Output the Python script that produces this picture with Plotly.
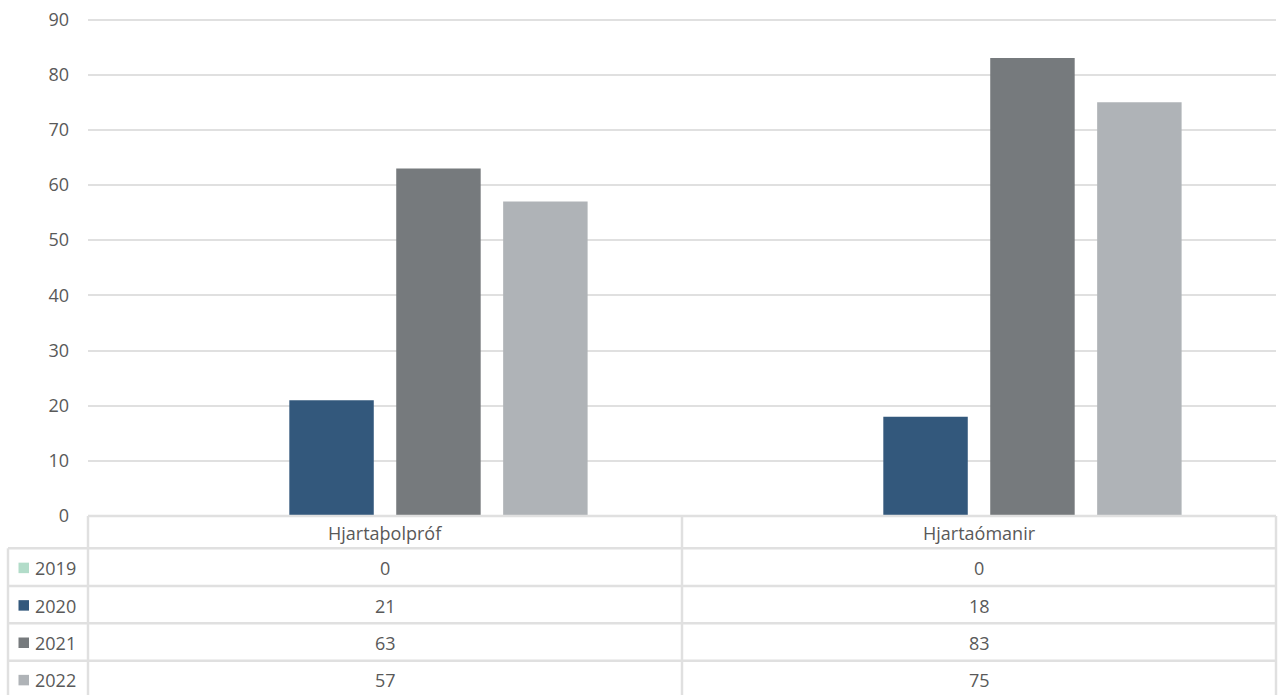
import plotly.graph_objects as go

categories = ["Hjartaþolpróf", "Hjartaómanir"]
years = ["2019", "2020", "2021", "2022"]
values_2019 = [0, 0]
values_2020 = [21, 18]
values_2021 = [63, 83]
values_2022 = [57, 75]
series = [values_2019, values_2020, values_2021, values_2022]
colors = ["#b2dcc9", "#33587c", "#767a7d", "#afb3b7"]
y_ticks = [0, 10, 20, 30, 40, 50, 60, 70, 80, 90]

W, H = 1282, 695
TXT = "#595959"
GRID = "#e0e0e0"
FONT = "Open Sans, DejaVu Sans, sans-serif"
FS = 18


def px(x):
    return x / W


def py(y):
    return 1 - y / H


plot_left, plot_right = 88, 1276
plot_bottom = 516
unit = (516 - 19.5) / 90.0
y_max = 91
plot_top = plot_bottom - y_max * unit

fig = go.Figure()
for yr, vals, col in zip(years, series, colors):
    fig.add_trace(go.Bar(x=categories, y=vals, name=yr, marker=dict(color=col, line=dict(width=0)),
                         showlegend=False))

fig.update_layout(
    width=W, height=H,
    margin=dict(l=0, r=0, t=0, b=0),
    paper_bgcolor="white", plot_bgcolor="white",
    barmode="group", bargap=0.28, bargroupgap=0.21,
    font=dict(family=FONT, size=FS, color=TXT),
    xaxis=dict(domain=[px(plot_left), px(plot_right)], showticklabels=False, showgrid=False,
               zeroline=False, showline=False, automargin=False),
    yaxis=dict(domain=[py(plot_bottom), py(plot_top)], range=[0, y_max], tickvals=y_ticks,
               showgrid=True, gridcolor=GRID, gridwidth=2, zeroline=False, showline=False,
               ticks="", ticklabelstandoff=18, automargin=False,
               tickfont=dict(family=FONT, size=FS, color=TXT)),
)

shapes = []
LW = 2.5


def hline(y, x0, x1):
    shapes.append(dict(type="line", xref="paper", yref="paper", x0=px(x0), x1=px(x1),
                       y0=py(y), y1=py(y), line=dict(color=GRID, width=LW)))


def vline(x, y0, y1):
    shapes.append(dict(type="line", xref="paper", yref="paper", x0=px(x), x1=px(x),
                       y0=py(y0), y1=py(y1), line=dict(color=GRID, width=LW)))


row_edges = [516, 548.3, 586, 623.3, 660.7, 698]
table_left = 8
col_edges = [plot_left, 682, plot_right]

hline(row_edges[0], plot_left, plot_right)
for y in row_edges[1:]:
    hline(y, table_left, plot_right)
vline(table_left, row_edges[1], row_edges[-1])
for x in col_edges:
    vline(x, row_edges[0], row_edges[-1])

annotations = []
col_centers = [(col_edges[i] + col_edges[i + 1]) / 2 for i in range(len(categories))]
header_y = (row_edges[0] + row_edges[1]) / 2
for c, xc in zip(categories, col_centers):
    annotations.append(dict(x=px(xc), y=py(header_y + 1), xref="paper", yref="paper", text=c,
                            showarrow=False, xanchor="center", yanchor="middle",
                            font=dict(family=FONT, size=FS, color=TXT)))

for i, (yr, vals, col) in enumerate(zip(years, series, colors)):
    yc = (row_edges[i + 1] + row_edges[i + 2]) / 2 + 1
    shapes.append(dict(type="rect", xref="paper", yref="paper", x0=px(18.5), x1=px(29),
                       y0=py(yc - 5.5), y1=py(yc + 5), fillcolor=col, line=dict(width=0)))
    annotations.append(dict(x=px(33), y=py(yc), xref="paper", yref="paper", text=yr,
                            showarrow=False, xanchor="left", yanchor="middle",
                            font=dict(family=FONT, size=FS, color=TXT)))
    for v, xc in zip(vals, col_centers):
        annotations.append(dict(x=px(xc), y=py(yc), xref="paper", yref="paper", text=str(v),
                                showarrow=False, xanchor="center", yanchor="middle",
                                font=dict(family=FONT, size=FS, color=TXT)))

fig.update_layout(shapes=shapes, annotations=annotations)
fig.write_html("out.html", config={"displayModeBar": False},
               post_script="document.body.style.margin='0';")
